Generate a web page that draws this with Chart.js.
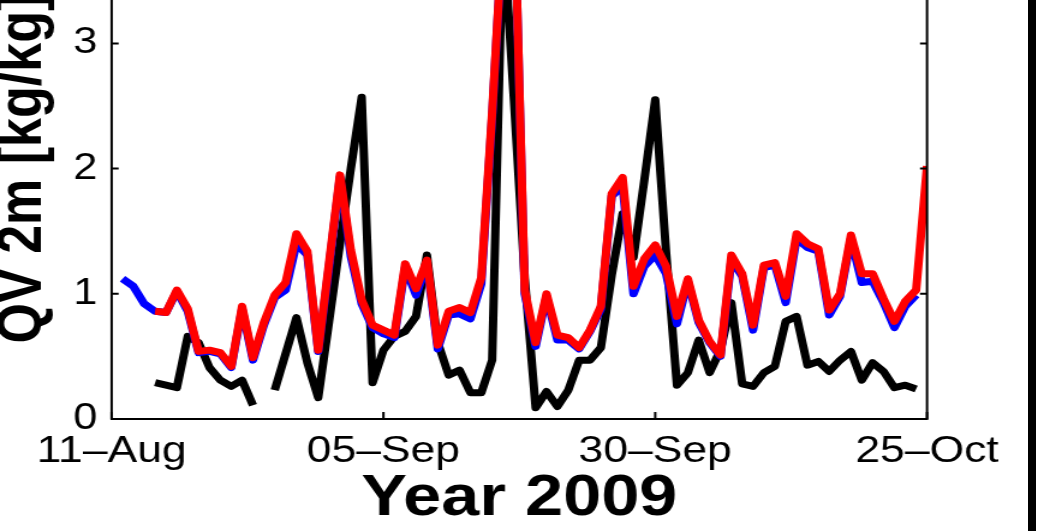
<!DOCTYPE html>
<html>
<head>
<meta charset="utf-8">
<script src="https://cdn.jsdelivr.net/npm/chart.js@4.4.1/dist/chart.umd.min.js"></script>
<style>
  html, body { margin: 0; padding: 0; background: #fff; overflow: hidden; }
  body { width: 1051px; height: 531px; position: relative; }
  #wrap { position: absolute; left: 0; top: -100px; height: 631px; transform-origin: 0 0; }
  #edge { position: absolute; left: 1028px; top: 0; width: 8px; height: 531px; background: #000; }
</style>
</head>
<body>
<div id="wrap"><canvas id="c"></canvas></div>
<div id="edge"></div>
<script>
// Daily near-surface specific humidity, 11 Aug – 25 Oct 2009 (day 0 = 11 Aug)
const tickDays   = [0, 25, 50, 75];
const tickLabels = ['11\u2013Aug', '05\u2013Sep', '30\u2013Sep', '25\u2013Oct'];
const yTicks     = [0, 1, 2, 3];

// observations (black)
const observed = [
  null, null, null, null, 0.29, 0.27, 0.25, 0.66, 0.61, 0.41,
  0.31, 0.26, 0.31, 0.11, null, 0.23, 0.52, 0.81, 0.45, 0.17,
  0.78, 1.40, 2.00, 2.57, 0.29, 0.55, 0.66, 0.70, 0.82, 1.31,
  0.61, 0.35, 0.39, 0.21, 0.21, 0.47, 3.95, 2.55, 1.12, 0.09,
  0.22, 0.10, 0.23, 0.47, 0.47, 0.57, 1.15, 1.64, 1.29, 1.91,
  2.55, 1.33, 0.27, 0.37, 0.63, 0.37, 0.55, 0.93, 0.28, 0.26,
  0.37, 0.42, 0.78, 0.82, 0.43, 0.46, 0.38, 0.47, 0.54, 0.31,
  0.45, 0.38, 0.25, 0.27, 0.24, null
];

// model run A (blue)
const modelA = [
  null, 1.12, 1.06, 0.92, 0.86, 0.85, 1.02, 0.86, 0.53, 0.54,
  0.52, 0.41, 0.88, 0.47, 0.75, 0.97, 1.03, 1.40, 1.31, 0.54,
  1.22, 1.93, 1.30, 0.92, 0.73, 0.68, 0.65, 1.21, 0.99, 1.24,
  0.56, 0.83, 0.84, 0.80, 1.08, 2.42, 3.95, 4.30, 1.00, 0.58,
  0.98, 0.63, 0.63, 0.56, 0.70, 0.88, 1.78, 1.86, 1.00, 1.22,
  1.31, 1.16, 0.76, 1.10, 0.77, 0.61, 0.50, 1.27, 1.14, 0.71,
  1.21, 1.23, 0.93, 1.44, 1.37, 1.34, 0.83, 0.98, 1.44, 1.09,
  1.10, 0.93, 0.73, 0.90, 0.99, null
];

// model run B (red)
const modelB = [
  null, null, null, null, 0.86, 0.85, 1.03, 0.88, 0.54, 0.55,
  0.53, 0.42, 0.90, 0.49, 0.77, 0.99, 1.09, 1.48, 1.34, 0.55,
  1.25, 1.95, 1.35, 0.95, 0.75, 0.71, 0.67, 1.24, 1.04, 1.27,
  0.59, 0.86, 0.89, 0.85, 1.13, 2.45, 3.95, 4.30, 1.03, 0.61,
  1.00, 0.67, 0.65, 0.57, 0.71, 0.90, 1.80, 1.93, 1.06, 1.28,
  1.39, 1.22, 0.82, 1.12, 0.79, 0.62, 0.51, 1.31, 1.16, 0.75,
  1.23, 1.25, 0.98, 1.48, 1.40, 1.36, 0.87, 1.00, 1.47, 1.16,
  1.16, 0.96, 0.78, 0.94, 1.03, 2.02
];

const days = observed.map((_, i) => i);
const pts = arr => days.map((d, i) => ({ x: d, y: arr[i] }));

// the figure is rendered narrow and stretched horizontally
const SX = 1.2;
const W = 1051 / SX;
const wrap = document.getElementById('wrap');
wrap.style.width = W + 'px';
wrap.style.transform = 'scaleX(' + SX + ')';

const AX_LEFT = 111.5 / SX, AX_RIGHT = 926 / SX;
const FONT = "'Liberation Sans', Arial, Helvetica, sans-serif";

// axes box with inward tick marks on all sides
const boxPlugin = {
  id: 'box',
  afterDraw(chart) {
    const { ctx, chartArea: a, scales: { x, y } } = chart;
    ctx.save();
    ctx.strokeStyle = '#000';
    ctx.lineWidth = 2;
    ctx.beginPath();
    ctx.rect(a.left, a.top, a.right - a.left, a.bottom - a.top);
    ctx.stroke();
    ctx.beginPath();
    const tlx = 7 / SX, tly = 7;
    yTicks.forEach(v => {
      const p = y.getPixelForValue(v);
      ctx.moveTo(a.left, p); ctx.lineTo(a.left + tlx, p);
      ctx.moveTo(a.right, p); ctx.lineTo(a.right - tlx, p);
    });
    tickDays.forEach(v => {
      const p = x.getPixelForValue(v);
      ctx.moveTo(p, a.bottom); ctx.lineTo(p, a.bottom - tly);
      ctx.moveTo(p, a.top); ctx.lineTo(p, a.top + tly);
    });
    ctx.stroke();
    ctx.restore();
  }
};

const lineStyle = { borderWidth: 7, pointRadius: 0, tension: 0, fill: false,
                    borderJoinStyle: 'round', borderCapStyle: 'butt', spanGaps: false };

new Chart(document.getElementById('c'), {
  type: 'line',
  data: {
    datasets: [
      Object.assign({ label: 'model B', data: pts(modelB), borderColor: '#ff0000' }, lineStyle),
      Object.assign({ label: 'model A', data: pts(modelA), borderColor: '#0000ff' }, lineStyle),
      Object.assign({ label: 'observed', data: pts(observed), borderColor: '#000000' }, lineStyle)
    ]
  },
  options: {
    responsive: true,
    maintainAspectRatio: false,
    animation: false,
    devicePixelRatio: 1,
    layout: { padding: { left: 0, top: 18.2, bottom: 0, right: W - AX_RIGHT } },
    plugins: { legend: { display: false }, tooltip: { enabled: false } },
    scales: {
      x: {
        type: 'linear', min: 0, max: 75,
        afterFit(s) { s.height = 112; s.paddingLeft = 0; s.paddingRight = 0; },
        afterBuildTicks(s) { s.ticks = tickDays.map(v => ({ value: v })); },
        grid: { display: false, drawTicks: false },
        border: { display: false },
        ticks: {
          padding: 11, color: '#000', maxRotation: 0, autoSkip: false,
          font: { family: FONT, size: 37 },
          callback: v => tickLabels[tickDays.indexOf(v)]
        },
        title: {
          display: true, text: 'Year 2009', color: '#000',
          font: { family: FONT, size: 57, weight: 'bold', lineHeight: 1.05 },
          padding: { top: 0, bottom: 1.5 }
        }
      },
      y: {
        min: 0, max: 4,
        afterFit(s) { s.width = AX_LEFT; s.paddingTop = 0; s.paddingBottom = 0; },
        afterBuildTicks(s) { s.ticks = yTicks.map(v => ({ value: v })); },
        grid: { display: false, drawTicks: false },
        border: { display: false },
        ticks: {
          padding: 12, color: '#000',
          font: { family: FONT, size: 36 },
          callback: v => String(v)
        },
        title: {
          display: true, text: 'QV 2m [kg/kg]', color: '#000',
          font: { family: FONT, size: 52, weight: 'bold', lineHeight: 0.75 },
          padding: { top: 0, bottom: 0 }
        }
      }
    }
  },
  plugins: [boxPlugin]
});
</script>
</body>
</html>
